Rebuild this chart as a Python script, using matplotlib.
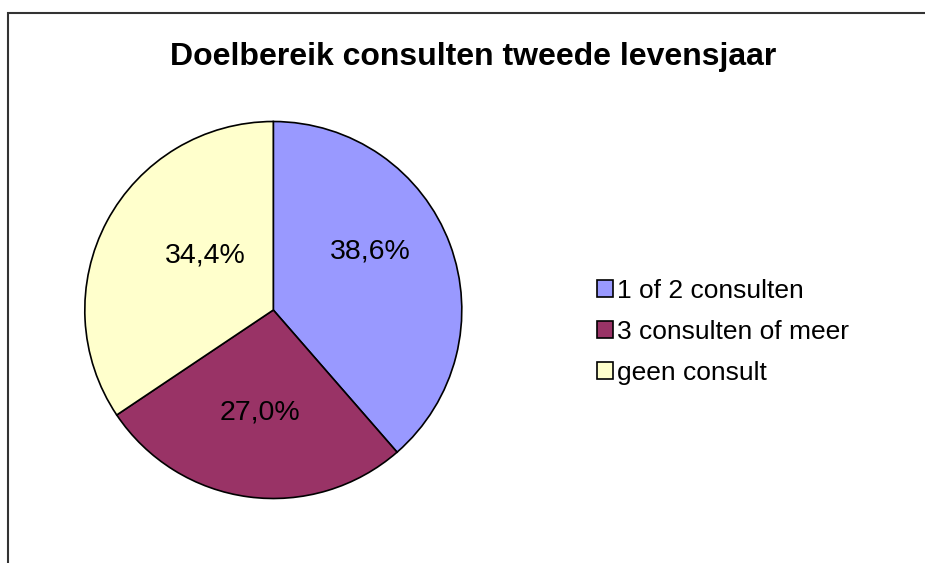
import matplotlib
matplotlib.use("Agg")
import matplotlib.pyplot as plt
from matplotlib.patches import Patch, Rectangle

plt.rcParams['font.family'] = ['Liberation Sans', 'DejaVu Sans']

title = "Doelbereik consulten tweede levensjaar"
categories = ["1 of 2 consulten", "3 consulten of meer", "geen consult"]
values = [38.6, 27.0, 34.4]
value_labels = ["38,6%", "27,0%", "34,4%"]
colors = ["#9999FF", "#993366", "#FFFFCC"]

W, H = 925, 563
fig = plt.figure(figsize=(W / 100, H / 100), dpi=100)
fig.patch.set_facecolor("white")

# outer chart-area border (only top/left visible)
fig.patches.append(Rectangle((8 / W, -0.5), 2.0, 0.5 + 1 - 13 / H,
                             transform=fig.transFigure, fill=False,
                             edgecolor="#333333", linewidth=1.5))

cx, cy, r = 273.3, H - 310, 188.5
ax = fig.add_axes([(cx - r) / W, (cy - r) / H, 2 * r / W, 2 * r / H])
wedges, texts = ax.pie(values, colors=colors, startangle=90, counterclock=False,
                       radius=1, wedgeprops=dict(edgecolor="black", linewidth=1.2))
ax.set_xlim(-1.0, 1.0)
ax.set_ylim(-1.0, 1.0)
ax.set_aspect("equal")
ax.axis("off")

label_pos = [(0.516, 0.309), (-0.069, -0.543), (-0.362, 0.287)]
for txt, (x, y) in zip(value_labels, label_pos):
    ax.text(x, y, txt, ha="center", va="center", fontsize=20.5, color="black")

fig.text(473.5 / W, 1 - 57 / H, title, ha="center", va="center",
         fontsize=23, fontweight="bold")

handles = [Patch(facecolor=c, edgecolor="black", linewidth=1.2) for c in colors]
fig.legend(handles, categories, loc="upper left",
           bbox_to_anchor=(597 / W, 1 - 279 / H), frameon=False,
           fontsize=19, handlelength=0.6, handleheight=0.6,
           handletextpad=0.15, labelspacing=0.64, borderpad=0, borderaxespad=0)

fig.savefig("out.png", dpi=100, facecolor="white")
